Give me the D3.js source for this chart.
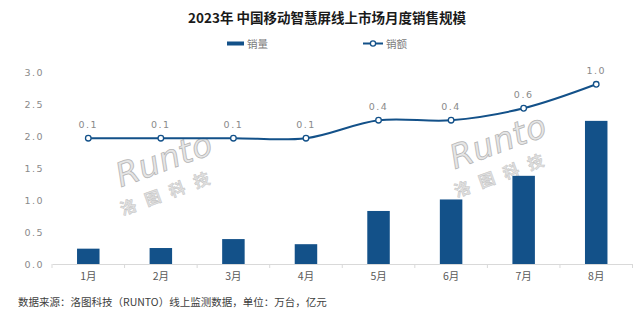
<!DOCTYPE html>
<html>
<head>
<meta charset="utf-8">
<script src="https://cdn.jsdelivr.net/npm/d3@7"></script>
<style>
  html, body { margin: 0; padding: 0; background: #ffffff; }
  svg { display: block; font-family: "Noto Sans CJK SC", "Noto Sans", sans-serif; }
</style>
</head>
<body>
<svg id="chart" width="640" height="322"></svg>
<script>
// Monthly figures, 2023
const months = ["1月", "2月", "3月", "4月", "5月", "6月", "7月", "8月"];
const volume = [0.24, 0.25, 0.39, 0.31, 0.83, 1.01, 1.38, 2.24];   // 销量 (万台)
const revenue = [0.1, 0.1, 0.1, 0.1, 0.4, 0.4, 0.6, 1.0];          // 销额 (亿元)
const yTicks = [0, 0.5, 1.0, 1.5, 2.0, 2.5, 3.0];

const titleText = "2023年 中国移动智慧屏线上市场月度销售规模";
const sourceText = "数据来源：洛图科技（RUNTO）线上监测数据，单位：万台，亿元";

const blue = "#135189";
const svg = d3.select("#chart");

const margin = { left: 52, right: 8, top: 72, bottom: 58 };

const x = d3.scaleBand().domain(months).range([margin.left, 632.5]).paddingInner(0.69).paddingOuter(0.345);
const y = d3.scaleLinear().domain([0, 3]).range([264, 72.3]);
// secondary (hidden) axis for revenue
const y2 = d3.scaleLinear().domain([-2, 1.2]).range([264, 72.3]);

// watermark
function watermark(cx, cy) {
  const g = svg.append("g").attr("transform", `translate(${cx},${cy}) rotate(-20)`);
  g.append("text").attr("x", 0).attr("y", 0).attr("text-anchor", "middle")
    .attr("font-family", "DejaVu Sans, sans-serif").attr("font-style", "italic")
    .attr("font-size", 33).attr("letter-spacing", 0.5)
    .attr("fill", "#e6e6e6").attr("stroke", "#b5b5b5").attr("stroke-width", 0.8)
    .text("Runto");
  g.append("text").attr("x", -6).attr("y", 27).attr("text-anchor", "middle")
    .attr("font-size", 16).attr("font-weight", "bold").attr("letter-spacing", 10)
    .attr("fill", "#e0e0e0").attr("stroke", "#c4c4c4").attr("stroke-width", 0.5)
    .text("洛图科技");
}
watermark(168, 170);
watermark(502, 152);

// title
svg.append("text").attr("x", 327).attr("y", 23).attr("text-anchor", "middle")
  .attr("font-size", 13.5).attr("font-weight", "bold").attr("fill", "#1a1a1a")
  .text(titleText);

// legend
const lg = svg.append("g");
lg.append("rect").attr("x", 227).attr("y", 41.5).attr("width", 17).attr("height", 4).attr("fill", blue);
lg.append("text").attr("x", 247).attr("y", 47.5).attr("font-size", 10.5).attr("fill", "#7a7a7a").text("销量");
lg.append("line").attr("x1", 363).attr("x2", 383).attr("y1", 43.5).attr("y2", 43.5).attr("stroke", blue).attr("stroke-width", 2);
lg.append("circle").attr("cx", 373).attr("cy", 43.5).attr("r", 2.6).attr("fill", "#fff").attr("stroke", blue).attr("stroke-width", 1.3);
lg.append("text").attr("x", 386).attr("y", 47.5).attr("font-size", 10.5).attr("fill", "#7a7a7a").text("销额");

// y axis labels
const yAxis = d3.axisLeft(y).tickValues(yTicks).tickSize(0).tickPadding(0)
  .tickFormat(d => d3.format(".1f")(d));
const ya = svg.append("g").attr("transform", "translate(44,0)").call(yAxis);
ya.select(".domain").remove();
ya.selectAll("text").attr("font-family", "DejaVu Sans, sans-serif").attr("font-size", 9.5)
  .attr("letter-spacing", 1.5).attr("fill", "#8a8a8a");

// x axis
const xAxis = d3.axisBottom(x).tickSize(0).tickPadding(9);
const xa = svg.append("g").attr("transform", `translate(0,${y(0)})`).call(xAxis);
xa.select(".domain").attr("stroke", "#d9d9d9");
xa.selectAll("text").attr("font-size", 10.5).attr("fill", "#595959")
  .attr("font-family", "\"Noto Sans CJK SC\", sans-serif");
// ticks between categories
svg.append("g").selectAll("line").data(d3.range(months.length + 1)).join("line")
  .attr("x1", i => margin.left + i * x.step()).attr("x2", i => margin.left + i * x.step())
  .attr("y1", y(0)).attr("y2", y(0) + 4).attr("stroke", "#d9d9d9");

// bars
svg.append("g").selectAll("rect").data(months).join("rect")
  .attr("x", d => x(d)).attr("width", x.bandwidth())
  .attr("y", (d, i) => y(volume[i])).attr("height", (d, i) => y(0) - y(volume[i]))
  .attr("fill", blue);

// revenue line (smoothed)
const cx = d => x(d) + x.bandwidth() / 2;
const line = d3.line().x((d, i) => cx(months[i])).y(d => y2(d)).curve(d3.curveCatmullRom.alpha(0.5));
svg.append("path").datum(revenue).attr("d", line)
  .attr("fill", "none").attr("stroke", blue).attr("stroke-width", 2);
svg.append("g").selectAll("circle").data(revenue).join("circle")
  .attr("cx", (d, i) => cx(months[i])).attr("cy", d => y2(d)).attr("r", 2.8)
  .attr("fill", "#fff").attr("stroke", blue).attr("stroke-width", 1.3);
svg.append("g").selectAll("text").data(revenue).join("text")
  .attr("x", (d, i) => cx(months[i])).attr("y", d => y2(d) - 10)
  .attr("text-anchor", "middle").attr("font-family", "DejaVu Sans, sans-serif")
  .attr("font-size", 9.5).attr("letter-spacing", 1.5).attr("fill", "#8a8a8a")
  .text(d => d3.format(".1f")(d));

// source note
svg.append("text").attr("x", 18).attr("y", 306).attr("font-size", 10.5).attr("fill", "#404040")
  .text(sourceText);
</script>
</body>
</html>
